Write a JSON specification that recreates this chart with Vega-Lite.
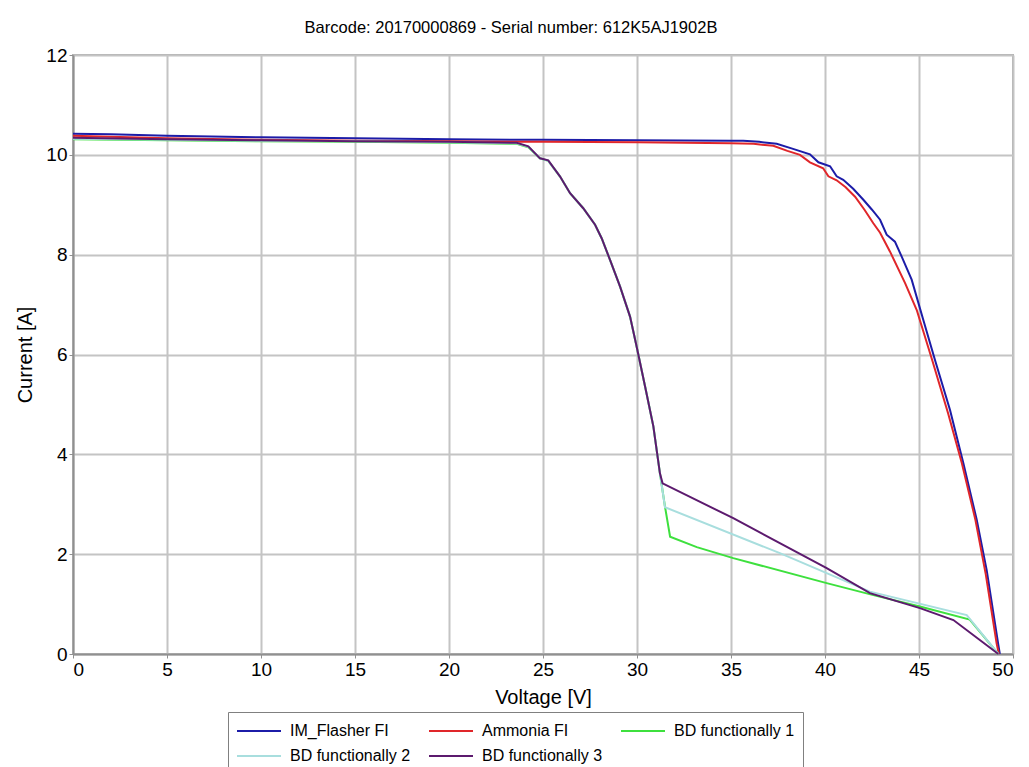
{
  "$schema": "https://vega.github.io/schema/vega-lite/v6.json",
  "width": 940,
  "height": 599,
  "autosize": {"type": "none"},
  "padding": {"left": 73, "top": 55, "right": 16, "bottom": 113},
  "background": "white",
  "title": {"text": "Barcode: 20170000869 - Serial number: 612K5AJ1902B", "font": "Liberation Sans", "fontSize": 16.5, "fontWeight": "normal", "color": "#000000", "offset": 10, "anchor": "middle", "dx": -32},
  "config": {
    "view": {"stroke": "#b0b0b0", "strokeWidth": 2},
    "font": "Liberation Sans",
    "axis": {"gridColor": "#c4c4c4", "gridWidth": 2, "domainColor": "#909090", "domainWidth": 2, "tickColor": "#909090", "tickSize": 4, "labelFontSize": 19, "labelColor": "#000000", "titleFontSize": 20, "titleFontWeight": "normal", "titleColor": "#000000"},
    "legend": {"labelFontSize": 16, "labelColor": "#000000", "symbolType": "M-1,0H3.4", "symbolSize": 400, "symbolStrokeWidth": 2, "labelOffset": 32, "strokeColor": "#808080", "padding": 8, "columnPadding": 14, "rowPadding": 6}
  },
  "data": {"values": [
    {"s":"IM_Flasher FI","V":0,"I":10.42},{"s":"IM_Flasher FI","V":2,"I":10.41},{"s":"IM_Flasher FI","V":5,"I":10.38},{"s":"IM_Flasher FI","V":10,"I":10.35},{"s":"IM_Flasher FI","V":15,"I":10.33},{"s":"IM_Flasher FI","V":20,"I":10.31},{"s":"IM_Flasher FI","V":25,"I":10.3},{"s":"IM_Flasher FI","V":30,"I":10.29},{"s":"IM_Flasher FI","V":35,"I":10.28},{"s":"IM_Flasher FI","V":35.65,"I":10.28},{"s":"IM_Flasher FI","V":36.5,"I":10.26},{"s":"IM_Flasher FI","V":37.43,"I":10.22},{"s":"IM_Flasher FI","V":38.3,"I":10.12},{"s":"IM_Flasher FI","V":39.2,"I":10.01},{"s":"IM_Flasher FI","V":39.65,"I":9.85},{"s":"IM_Flasher FI","V":40.27,"I":9.77},{"s":"IM_Flasher FI","V":40.62,"I":9.57},{"s":"IM_Flasher FI","V":40.97,"I":9.5},{"s":"IM_Flasher FI","V":41.5,"I":9.32},{"s":"IM_Flasher FI","V":42.04,"I":9.1},{"s":"IM_Flasher FI","V":42.5,"I":8.9},{"s":"IM_Flasher FI","V":42.93,"I":8.7},{"s":"IM_Flasher FI","V":43.28,"I":8.4},{"s":"IM_Flasher FI","V":43.72,"I":8.26},{"s":"IM_Flasher FI","V":44.08,"I":7.96},{"s":"IM_Flasher FI","V":44.61,"I":7.5},{"s":"IM_Flasher FI","V":45.23,"I":6.69},{"s":"IM_Flasher FI","V":45.85,"I":5.89},{"s":"IM_Flasher FI","V":46.65,"I":4.89},{"s":"IM_Flasher FI","V":47.36,"I":3.82},{"s":"IM_Flasher FI","V":48.07,"I":2.69},{"s":"IM_Flasher FI","V":48.6,"I":1.68},{"s":"IM_Flasher FI","V":49.22,"I":0.18},{"s":"IM_Flasher FI","V":49.3,"I":0},
    {"s":"Ammonia FI","V":0,"I":10.38},{"s":"Ammonia FI","V":5,"I":10.33},{"s":"Ammonia FI","V":10,"I":10.3},{"s":"Ammonia FI","V":15,"I":10.28},{"s":"Ammonia FI","V":20,"I":10.27},{"s":"Ammonia FI","V":25,"I":10.26},{"s":"Ammonia FI","V":30,"I":10.25},{"s":"Ammonia FI","V":35,"I":10.23},{"s":"Ammonia FI","V":36.2,"I":10.22},{"s":"Ammonia FI","V":37.25,"I":10.18},{"s":"Ammonia FI","V":38.0,"I":10.08},{"s":"Ammonia FI","V":38.67,"I":10.0},{"s":"Ammonia FI","V":39.2,"I":9.85},{"s":"Ammonia FI","V":39.9,"I":9.73},{"s":"Ammonia FI","V":40.18,"I":9.57},{"s":"Ammonia FI","V":40.62,"I":9.49},{"s":"Ammonia FI","V":41.1,"I":9.35},{"s":"Ammonia FI","V":41.6,"I":9.16},{"s":"Ammonia FI","V":42.1,"I":8.9},{"s":"Ammonia FI","V":42.57,"I":8.63},{"s":"Ammonia FI","V":42.93,"I":8.44},{"s":"Ammonia FI","V":43.46,"I":8.06},{"s":"Ammonia FI","V":44.26,"I":7.43},{"s":"Ammonia FI","V":44.88,"I":6.89},{"s":"Ammonia FI","V":45.7,"I":5.89},{"s":"Ammonia FI","V":46.55,"I":4.82},{"s":"Ammonia FI","V":47.28,"I":3.82},{"s":"Ammonia FI","V":48.0,"I":2.69},{"s":"Ammonia FI","V":48.55,"I":1.6},{"s":"Ammonia FI","V":49.13,"I":0.21},{"s":"Ammonia FI","V":49.25,"I":0},
    {"s":"BD functionally 1","V":0,"I":10.31},{"s":"BD functionally 1","V":5,"I":10.29},{"s":"BD functionally 1","V":10,"I":10.27},{"s":"BD functionally 1","V":15,"I":10.26},{"s":"BD functionally 1","V":20,"I":10.24},{"s":"BD functionally 1","V":23.6,"I":10.22},{"s":"BD functionally 1","V":24.22,"I":10.15},{"s":"BD functionally 1","V":24.84,"I":9.93},{"s":"BD functionally 1","V":25.28,"I":9.88},{"s":"BD functionally 1","V":25.9,"I":9.57},{"s":"BD functionally 1","V":26.44,"I":9.23},{"s":"BD functionally 1","V":27.14,"I":8.93},{"s":"BD functionally 1","V":27.77,"I":8.6},{"s":"BD functionally 1","V":28.12,"I":8.33},{"s":"BD functionally 1","V":28.56,"I":7.9},{"s":"BD functionally 1","V":29.1,"I":7.36},{"s":"BD functionally 1","V":29.63,"I":6.76},{"s":"BD functionally 1","V":29.98,"I":6.16},{"s":"BD functionally 1","V":30.43,"I":5.36},{"s":"BD functionally 1","V":30.87,"I":4.56},{"s":"BD functionally 1","V":31.22,"I":3.62},{"s":"BD functionally 1","V":31.49,"I":2.95},{"s":"BD functionally 1","V":31.76,"I":2.35},{"s":"BD functionally 1","V":33.18,"I":2.14},{"s":"BD functionally 1","V":35.12,"I":1.92},{"s":"BD functionally 1","V":40.09,"I":1.42},{"s":"BD functionally 1","V":42.57,"I":1.18},{"s":"BD functionally 1","V":45.05,"I":0.95},{"s":"BD functionally 1","V":47.7,"I":0.69},{"s":"BD functionally 1","V":49.22,"I":0},
    {"s":"BD functionally 2","V":0,"I":10.32},{"s":"BD functionally 2","V":5,"I":10.3},{"s":"BD functionally 2","V":10,"I":10.28},{"s":"BD functionally 2","V":15,"I":10.27},{"s":"BD functionally 2","V":20,"I":10.25},{"s":"BD functionally 2","V":23.6,"I":10.23},{"s":"BD functionally 2","V":24.22,"I":10.16},{"s":"BD functionally 2","V":24.84,"I":9.93},{"s":"BD functionally 2","V":25.28,"I":9.88},{"s":"BD functionally 2","V":25.9,"I":9.57},{"s":"BD functionally 2","V":26.44,"I":9.23},{"s":"BD functionally 2","V":27.14,"I":8.93},{"s":"BD functionally 2","V":27.77,"I":8.6},{"s":"BD functionally 2","V":28.12,"I":8.33},{"s":"BD functionally 2","V":28.56,"I":7.9},{"s":"BD functionally 2","V":29.1,"I":7.36},{"s":"BD functionally 2","V":29.63,"I":6.76},{"s":"BD functionally 2","V":29.98,"I":6.16},{"s":"BD functionally 2","V":30.43,"I":5.36},{"s":"BD functionally 2","V":30.87,"I":4.56},{"s":"BD functionally 2","V":31.22,"I":3.62},{"s":"BD functionally 2","V":31.49,"I":2.94},{"s":"BD functionally 2","V":37.6,"I":2.02},{"s":"BD functionally 2","V":42.39,"I":1.25},{"s":"BD functionally 2","V":47.54,"I":0.78},{"s":"BD functionally 2","V":49.22,"I":0},
    {"s":"BD functionally 3","V":0,"I":10.34},{"s":"BD functionally 3","V":5,"I":10.31},{"s":"BD functionally 3","V":10,"I":10.29},{"s":"BD functionally 3","V":15,"I":10.27},{"s":"BD functionally 3","V":20,"I":10.26},{"s":"BD functionally 3","V":23.6,"I":10.24},{"s":"BD functionally 3","V":24.22,"I":10.17},{"s":"BD functionally 3","V":24.84,"I":9.93},{"s":"BD functionally 3","V":25.28,"I":9.89},{"s":"BD functionally 3","V":25.9,"I":9.57},{"s":"BD functionally 3","V":26.44,"I":9.23},{"s":"BD functionally 3","V":27.14,"I":8.93},{"s":"BD functionally 3","V":27.77,"I":8.6},{"s":"BD functionally 3","V":28.12,"I":8.33},{"s":"BD functionally 3","V":28.56,"I":7.9},{"s":"BD functionally 3","V":29.1,"I":7.36},{"s":"BD functionally 3","V":29.63,"I":6.76},{"s":"BD functionally 3","V":29.98,"I":6.16},{"s":"BD functionally 3","V":30.43,"I":5.36},{"s":"BD functionally 3","V":30.87,"I":4.56},{"s":"BD functionally 3","V":31.22,"I":3.62},{"s":"BD functionally 3","V":31.36,"I":3.42},{"s":"BD functionally 3","V":35.12,"I":2.72},{"s":"BD functionally 3","V":40.09,"I":1.72},{"s":"BD functionally 3","V":42.39,"I":1.22},{"s":"BD functionally 3","V":45.05,"I":0.92},{"s":"BD functionally 3","V":46.83,"I":0.68},{"s":"BD functionally 3","V":49.22,"I":0}
  ]},
  "mark": {"type": "line", "strokeWidth": 2},
  "encoding": {
    "x": {"field": "V", "type": "quantitative", "title": "Voltage [V]", "scale": {"domain": [0, 50], "nice": false}, "axis": {"values": [0,5,10,15,20,25,30,35,40,45,50], "titlePadding": 8}},
    "y": {"field": "I", "type": "quantitative", "title": "Current [A]", "scale": {"domain": [0, 12], "nice": false}, "axis": {"values": [0,2,4,6,8,10,12], "titlePadding": 10}},
    "color": {"field": "s", "type": "nominal", "sort": ["IM_Flasher FI", "Ammonia FI", "BD functionally 1", "BD functionally 2", "BD functionally 3"],
      "scale": {"domain": ["IM_Flasher FI", "Ammonia FI", "BD functionally 1", "BD functionally 2", "BD functionally 3"], "range": ["#1c1ca8", "#e0262a", "#3ee03e", "#a8dede", "#5c1a6e"]},
      "legend": {"title": null, "orient": "none", "legendX": 155, "legendY": 657, "direction": "horizontal", "columns": 3}},
    "order": {"field": "V", "type": "quantitative"}
  }
}
